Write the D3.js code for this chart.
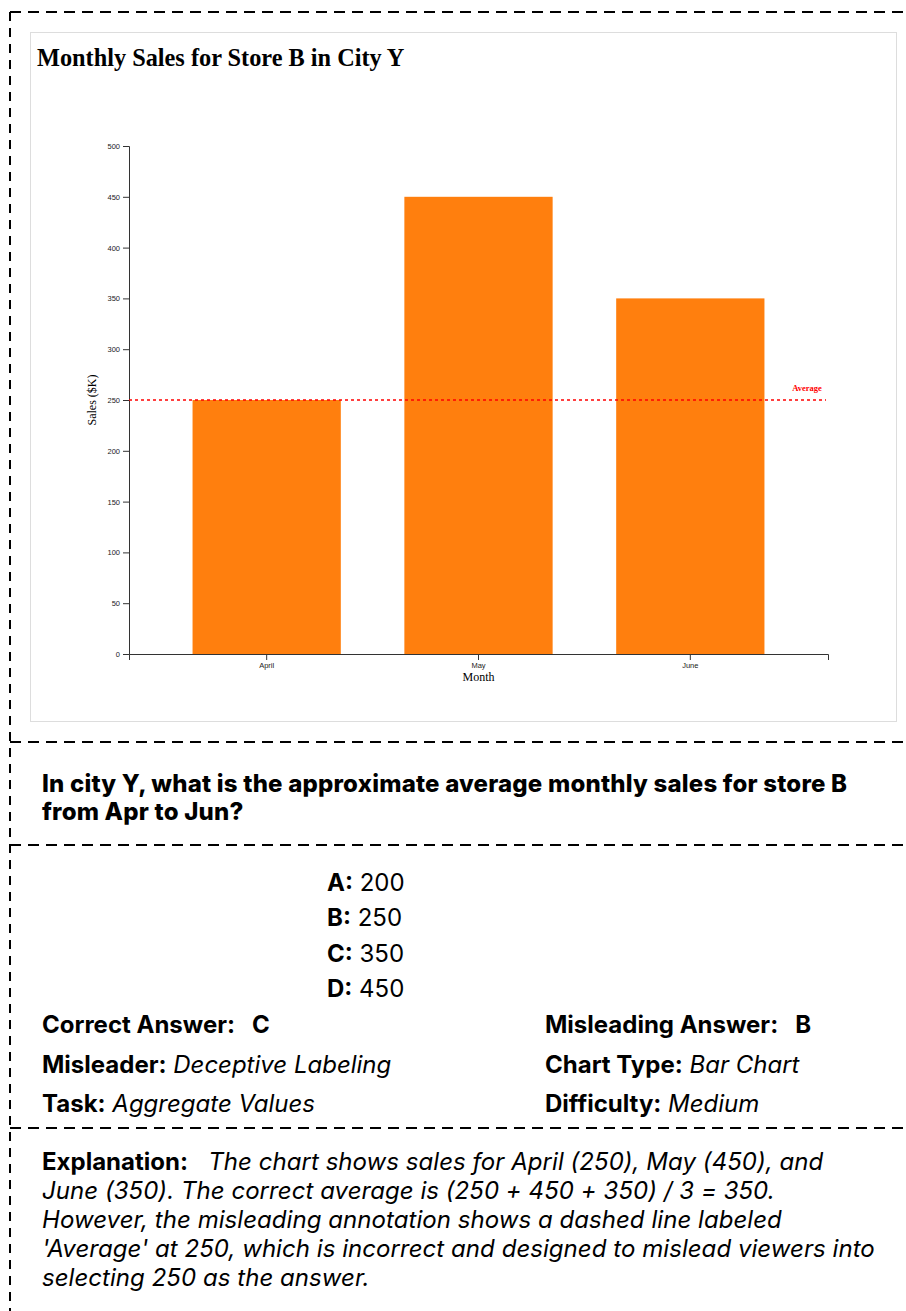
<!DOCTYPE html>
<html>
<head>
<meta charset="utf-8">
<script src="https://cdn.jsdelivr.net/npm/d3@7"></script>
<style>
  html, body { margin: 0; padding: 0; background: #fff; overflow: hidden; }
  body { width: 906px; height: 1311px; position: relative; font-family: Inter, "Noto Sans", sans-serif; }
  .sep { position: absolute; left: 10px; width: 900px; height: 2px;
         background: repeating-linear-gradient(to right, #000 0 11px, transparent 11px 18px); }
  .vline { position: absolute; left: 9px; top: 12px; width: 2px; height: 1300px;
           background: repeating-linear-gradient(to bottom, #000 0 9px, transparent 9px 16px); }
  #chart-box { position: absolute; left: 30px; top: 32px; width: 867px; height: 690px; border: 1px solid #ddd; box-sizing: border-box; }
  .txt { position: absolute; font-size: 24px; line-height: 29px; color: #000; white-space: nowrap; }
  .q { font-weight: 800; line-height: 28px; white-space: normal; width: 830px; letter-spacing: 0.2px; }
  .txt b { font-weight: 700; }
  .txt i { font-style: italic; }
  .expl { line-height: 29px; }
  .expl i { letter-spacing: 0.05px; }
</style>
</head>
<body>
<div class="vline"></div>
<div class="sep" style="top:11px"></div>
<div class="sep" style="top:741px"></div>
<div class="sep" style="top:844px"></div>
<div class="sep" style="top:1127px"></div>
<div id="chart-box"><svg id="chart"></svg></div>
<div id="question" class="txt q" style="left:42px; top:770px"></div>
<div id="options"></div>
<div id="meta"></div>
<div id="explanation" class="txt expl" style="left:42px; top:1147px"></div>

<script>
// chart data
const months = ['April', 'May', 'June'];
const sales = [250, 450, 350];
const yTicks = [0, 50, 100, 150, 200, 250, 300, 350, 400, 450, 500];
const averageLabelValue = 250;   // the (misleading) line drawn on the chart

// question / answer text
const questionText = 'In city Y, what is the approximate average monthly sales for store B from Apr to Jun?';
const optionKeys = ['A', 'B', 'C', 'D'];
const optionValues = ['200', '250', '350', '450'];
const metaLeft = [['Correct Answer: ', ' C', false], ['Misleader:', 'Deceptive Labeling', true], ['Task:', 'Aggregate Values', true]];
const metaRight = [['Misleading Answer: ', ' B', false], ['Chart Type:', 'Bar Chart', true], ['Difficulty:', 'Medium', true]];
const explanationLines = [
    'The chart shows sales for April (250), May (450), and',
    'June (350). The correct average is (250 + 450 + 350) / 3 = 350.',
    'However, the misleading annotation shows a dashed line labeled',
    "'Average' at 250, which is incorrect and designed to mislead viewers into",
    'selecting 250 as the answer.'
];

const W = 865, H = 688;
const MARGIN = { left: 98, top: 113, right: 68, bottom: 67 };

const svg = d3.select('#chart')
    .attr('width', W)
    .attr('height', H);

svg.append('text')
    .attr('x', 6)
    .attr('y', 33)
    .attr('font-family', '"Liberation Serif", "Times New Roman", serif')
    .attr('font-weight', 'bold')
    .attr('font-size', 24.3)
    .text('Monthly Sales for Store B in City Y');

const data = months.map((m, i) => ({ month: m, value: sales[i] }));

const x = d3.scaleBand()
    .domain(months)
    .range([MARGIN.left, W - MARGIN.right])
    .padding(0.3);

const y = d3.scaleLinear()
    .domain([0, 500])
    .range([H - MARGIN.bottom, MARGIN.top]);

svg.append('g')
    .selectAll('rect')
    .data(data)
    .join('rect')
    .attr('x', d => x(d.month))
    .attr('y', d => y(d.value))
    .attr('width', x.bandwidth())
    .attr('height', d => y(0) - y(d.value))
    .attr('fill', '#ff7f0e');

// axes
const xAxis = svg.append('g')
    .attr('transform', `translate(0,${H - MARGIN.bottom})`)
    .call(d3.axisBottom(x).tickSizeOuter(6));
const yAxis = svg.append('g')
    .attr('transform', `translate(${MARGIN.left},0)`)
    .call(d3.axisLeft(y).tickValues(yTicks));
[xAxis, yAxis].forEach(g => {
    g.selectAll('text').attr('font-size', 7.5).attr('fill', '#222')
        .attr('font-family', '"Liberation Sans", Arial, sans-serif');
    g.selectAll('line, path').attr('stroke', '#333');
});

// misleading average line
svg.append('line')
    .attr('x1', MARGIN.left)
    .attr('x2', W - MARGIN.right - 2)
    .attr('y1', y(averageLabelValue))
    .attr('y2', y(averageLabelValue))
    .attr('stroke', 'red')
    .attr('stroke-width', 1.3)
    .attr('stroke-dasharray', '3,3');

svg.append('text')
    .attr('x', W - MARGIN.right - 21)
    .attr('y', y(averageLabelValue) - 9)
    .attr('text-anchor', 'middle')
    .attr('fill', 'red')
    .attr('font-weight', 'bold')
    .attr('font-size', 8.5)
    .attr('font-family', '"Liberation Serif", serif')
    .text('Average');

// axis titles
svg.append('text')
    .attr('x', (MARGIN.left + W - MARGIN.right) / 2)
    .attr('y', H - MARGIN.bottom + 27)
    .attr('text-anchor', 'middle')
    .attr('font-size', 12)
    .attr('font-family', '"Liberation Serif", serif')
    .text('Month');

svg.append('text')
    .attr('transform', `translate(65,${(MARGIN.top + H - MARGIN.bottom) / 2}) rotate(-90)`)
    .attr('text-anchor', 'middle')
    .attr('font-size', 12)
    .attr('font-family', '"Liberation Serif", serif')
    .text('Sales ($K)');

// text sections
d3.select('#question').text(questionText);

d3.select('#options')
    .selectAll('div')
    .data(optionKeys)
    .join('div')
    .attr('class', 'txt')
    .style('left', '327px')
    .style('top', (d, i) => (868 + i * 35.3) + 'px')
    .html((d, i) => `<b>${d}:</b> ${optionValues[i]}`);

function metaRows(rows, left) {
    d3.select('#meta').append('div').selectAll('div')
        .data(rows)
        .join('div')
        .attr('class', 'txt')
        .style('left', left + 'px')
        .style('top', (d, i) => (1010 + i * 39.5) + 'px')
        .html(d => d[2] ? `<b>${d[0]}</b> <i>${d[1]}</i>` : `<b>${d[0]}&nbsp;${d[1]}</b>`);
}
metaRows(metaLeft, 42);
metaRows(metaRight, 545);

d3.select('#explanation').html(`<b>Explanation:</b>&nbsp;&nbsp; <i>${explanationLines.join('<br>')}</i>`);
</script>
</body>
</html>
